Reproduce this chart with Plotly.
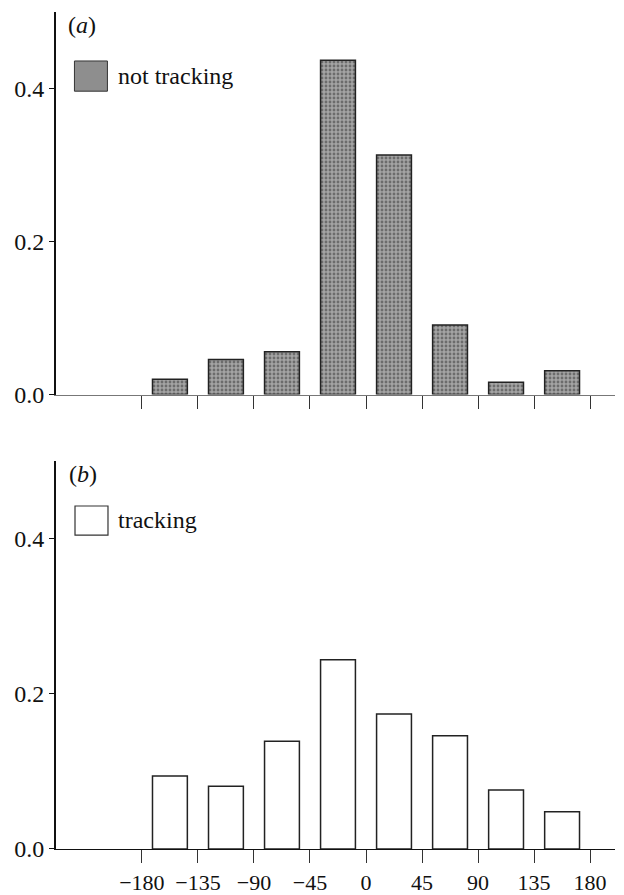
import plotly.graph_objects as go
from plotly.subplots import make_subplots

bin_centres = [-157.5, -112.5, -67.5, -22.5, 22.5, 67.5, 112.5, 157.5]
not_tracking = [0.020, 0.046, 0.056, 0.437, 0.313, 0.091, 0.016, 0.031]
tracking = [0.094, 0.081, 0.139, 0.244, 0.174, 0.146, 0.076, 0.048]
x_tick_vals = [-180, -135, -90, -45, 0, 45, 90, 135, 180]
x_tick_text = ["\u2212180", "\u2212135", "\u221290", "\u221245", "0", "45", "90", "135", "180"]
y_tick_vals = [0.0, 0.2, 0.4]
y_tick_text = ["0.0", "0.2", "0.4"]

FONT = "Liberation Serif, Times New Roman, serif"
FS = 24

fig = make_subplots(rows=2, cols=1, vertical_spacing=0.08)

fig.add_trace(go.Bar(
    x=bin_centres, y=not_tracking, width=28,
    marker=dict(color="#9a9a9a", line=dict(color="#222", width=1.5),
                pattern=dict(shape=".", fgcolor="#333333", bgcolor="#a4a4a4", size=4, solidity=0.4)),
    showlegend=False, name="not tracking"), row=1, col=1)

fig.add_trace(go.Bar(
    x=bin_centres, y=tracking, width=28,
    marker=dict(color="white", line=dict(color="#222", width=1.5)),
    showlegend=False, name="tracking"), row=2, col=1)

xr = [-249, 200]
common_x = dict(range=xr, tickvals=x_tick_vals, ticks="outside", ticklen=13, tickwidth=1.2,
                tickcolor="#333", showgrid=False, zeroline=False, showline=True,
                linewidth=1.2, mirror=False, automargin=False)
fig.update_xaxes(**common_x, linecolor="#777", showticklabels=False, row=1, col=1)
fig.update_xaxes(**common_x, linecolor="#111", ticktext=x_tick_text,
                 tickfont=dict(family=FONT, size=22, color="#111"), row=2, col=1)

common_y = dict(range=[0, 0.5], tickvals=y_tick_vals, ticktext=y_tick_text, ticks="outside",
                ticklen=5, tickwidth=1.2, tickcolor="#111", showgrid=False, zeroline=False,
                showline=True, linecolor="#111", linewidth=2, automargin=False,
                tickfont=dict(family=FONT, size=FS, color="#111"))
fig.update_yaxes(**common_y, row=1, col=1)
fig.update_yaxes(**common_y, row=2, col=1)

fig.update_layout(
    width=624, height=895,
    margin=dict(l=56, r=9, t=12, b=46, autoexpand=False),
    plot_bgcolor="white", paper_bgcolor="white",
    bargap=0.3,
    font=dict(family=FONT, size=FS, color="#111"),
)
fig.update_layout(
    yaxis=dict(domain=[0.5429, 1.0]),
    yaxis2=dict(domain=[0.0, 0.4636]),
    xaxis=dict(domain=[0, 1]),
    xaxis2=dict(domain=[0, 1]),
)

# panel labels
fig.add_annotation(text="(<i>a</i>)", xref="x domain", yref="y domain", x=0.018, y=1.005,
                   xanchor="left", yanchor="top", showarrow=False,
                   font=dict(family=FONT, size=FS, color="#111"))
fig.add_annotation(text="(<i>b</i>)", xref="x2 domain", yref="y2 domain", x=0.02, y=1.005,
                   xanchor="left", yanchor="top", showarrow=False,
                   font=dict(family=FONT, size=FS, color="#111"))

# legend swatches
fig.add_shape(type="rect", xref="x domain", yref="y domain", x0=0.033, x1=0.092, y0=0.793, y1=0.872,
              fillcolor="#8e8e8e", line=dict(color="#333", width=1))
fig.add_annotation(text="not tracking", xref="x domain", yref="y domain", x=0.108, y=0.834,
                   xanchor="left", yanchor="middle", showarrow=False,
                   font=dict(family=FONT, size=FS, color="#111"))
fig.add_shape(type="rect", xref="x2 domain", yref="y2 domain", x0=0.034, x1=0.093, y0=0.809, y1=0.884,
              fillcolor="white", line=dict(color="#333", width=1.2))
fig.add_annotation(text="tracking", xref="x2 domain", yref="y2 domain", x=0.108, y=0.848,
                   xanchor="left", yanchor="middle", showarrow=False,
                   font=dict(family=FONT, size=FS, color="#111"))

fig.write_html("out.html", config={"displayModeBar": False},
               post_script="document.body.style.margin='0';document.body.style.overflow='hidden';")
